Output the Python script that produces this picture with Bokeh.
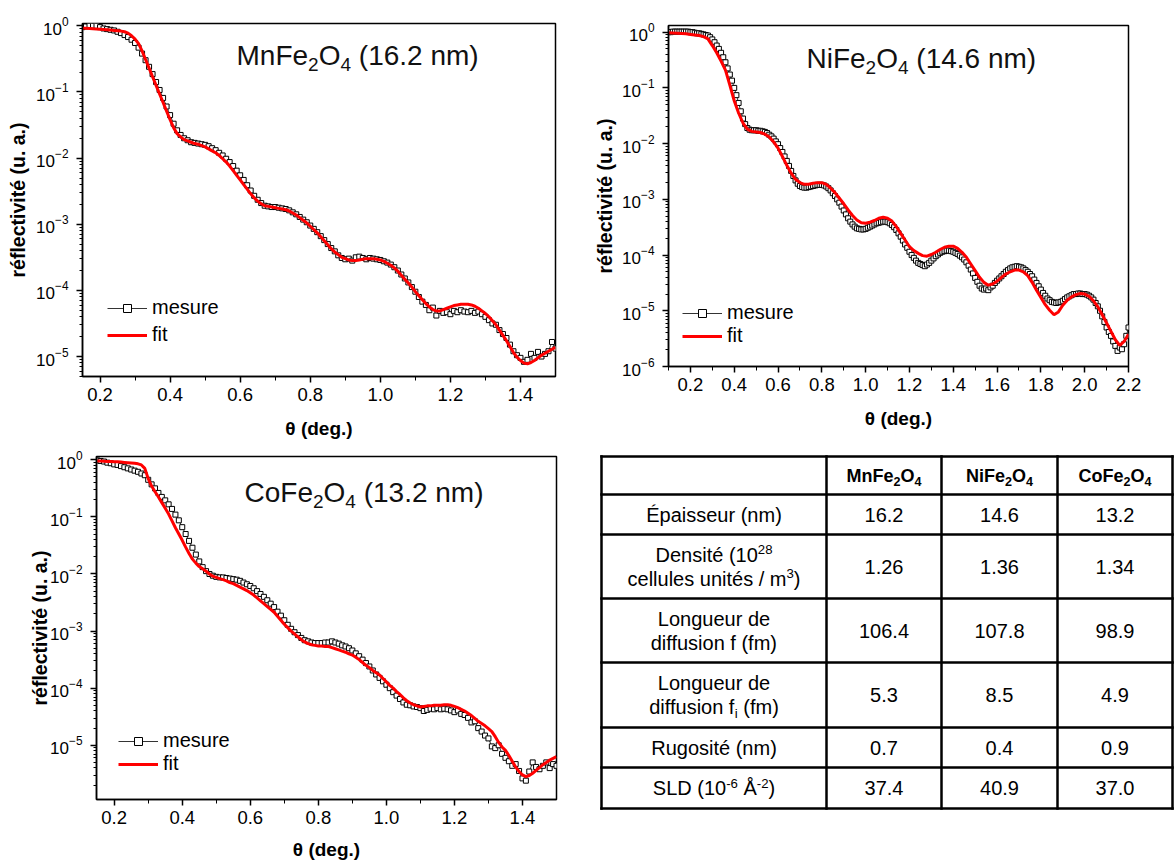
from bokeh.plotting import figure
from bokeh.models import (Range1d, FixedTicker, SingleIntervalTicker, PrintfTickFormatter,
                          ColumnDataSource, Legend, LegendItem)
from bokeh.layouts import column, row
from bokeh.embed import file_html
from bokeh.resources import INLINE
from bokeh.core.properties import value, field

FONT = "Liberation Sans"

# ------------------------------------------------------------------ data
# measured angles (deg.) : regular 0.01 deg. steps of the scan
mn_theta = [round(0.15 + 0.01 * i, 2) for i in range(136)]
co_theta = [round(0.15 + 0.01 * i, 2) for i in range(136)]
ni_theta = [round(0.10 + 0.01 * i, 2) for i in range(211)]
ni_fit_theta = [round(0.10 + 0.02 * i, 2) for i in range(106)]

# log10(reflectivity)
mn_meas_log = [
    -0.02, -0.01, 0.0, 0.0, 0.0, -0.02, -0.04, -0.05, -0.06, -0.07,
    -0.09, -0.11, -0.14, -0.17, -0.21, -0.26, -0.33, -0.42, -0.52, -0.62,
    -0.73, -0.85, -0.97, -1.09, -1.22, -1.35, -1.48, -1.58, -1.65, -1.70,
    -1.73, -1.76, -1.77, -1.78, -1.79, -1.80, -1.82, -1.85, -1.88, -1.92,
    -1.96, -2.01, -2.06, -2.12, -2.19, -2.26, -2.33, -2.41, -2.49, -2.57,
    -2.63, -2.68, -2.72, -2.73, -2.74, -2.74, -2.75, -2.76, -2.77, -2.79,
    -2.82, -2.85, -2.89, -2.93, -2.97, -3.02, -3.07, -3.12, -3.18, -3.24,
    -3.30, -3.36, -3.41, -3.47, -3.51, -3.53, -3.52, -3.55, -3.50, -3.49,
    -3.51, -3.53, -3.51, -3.52, -3.53, -3.54, -3.56, -3.58, -3.61, -3.65,
    -3.70, -3.76, -3.82, -3.88, -3.95, -4.02, -4.10, -4.17, -4.22, -4.30,
    -4.26, -4.38, -4.31, -4.34, -4.33, -4.36, -4.31, -4.33, -4.30, -4.32,
    -4.33, -4.31, -4.34, -4.32, -4.36, -4.40, -4.45, -4.50, -4.52, -4.60,
    -4.66, -4.72, -4.82, -4.92, -4.98, -5.02, -5.08, -5.05, -4.96, -5.02,
    -4.93, -5.00, -4.96, -4.92, -4.78, -4.88]
mn_fit_log = [
    -0.035, -0.037, -0.04, -0.045, -0.05, -0.052, -0.055, -0.06, -0.065, -0.07,
    -0.075, -0.08, -0.09, -0.11, -0.15, -0.20, -0.27, -0.38, -0.51, -0.64,
    -0.77, -0.90, -1.03, -1.16, -1.29, -1.42, -1.54, -1.63, -1.68, -1.72,
    -1.74, -1.76, -1.78, -1.79, -1.81, -1.83, -1.86, -1.89, -1.92, -1.96,
    -2.01, -2.06, -2.12, -2.19, -2.26, -2.33, -2.40, -2.47, -2.54, -2.60,
    -2.65, -2.69, -2.72, -2.73, -2.74, -2.75, -2.76, -2.77, -2.78, -2.80,
    -2.83, -2.86, -2.90, -2.94, -2.98, -3.03, -3.08, -3.13, -3.19, -3.25,
    -3.31, -3.37, -3.42, -3.46, -3.50, -3.52, -3.54, -3.55, -3.55, -3.54,
    -3.53, -3.52, -3.52, -3.52, -3.53, -3.54, -3.56, -3.59, -3.62, -3.66,
    -3.71, -3.77, -3.83, -3.89, -3.95, -4.02, -4.08, -4.14, -4.20, -4.25,
    -4.29, -4.31, -4.31, -4.29, -4.27, -4.25, -4.23, -4.22, -4.21, -4.21,
    -4.21, -4.22, -4.24, -4.27, -4.31, -4.35, -4.40, -4.46, -4.52, -4.60,
    -4.68, -4.76, -4.85, -4.94, -5.01, -5.06, -5.10, -5.11, -5.09, -5.06,
    -5.02, -4.98, -4.95, -4.92, -4.89, -4.86]

ni_meas_log = [
    0.0, 0.0, 0.01, 0.01, 0.01, 0.01, 0.01, 0.01, 0.01, 0.01,
    0.0, 0.0, -0.01, -0.02, -0.02, -0.03, -0.04, -0.05, -0.06, -0.09,
    -0.13, -0.18, -0.24, -0.30, -0.37, -0.45, -0.54, -0.65, -0.76, -0.87,
    -1.00, -1.13, -1.27, -1.42, -1.55, -1.65, -1.72, -1.75, -1.76, -1.76,
    -1.76, -1.77, -1.77, -1.78, -1.79, -1.81, -1.84, -1.87, -1.91, -1.96,
    -2.01, -2.08, -2.15, -2.23, -2.31, -2.40, -2.49, -2.58, -2.66, -2.72,
    -2.76, -2.78, -2.79, -2.79, -2.78, -2.77, -2.76, -2.75, -2.74, -2.74,
    -2.74, -2.75, -2.77, -2.80, -2.84, -2.89, -2.94, -3.00, -3.06, -3.13,
    -3.20, -3.27, -3.34, -3.40, -3.45, -3.49, -3.52, -3.53, -3.54, -3.54,
    -3.53, -3.51, -3.49, -3.47, -3.45, -3.43, -3.42, -3.41, -3.40, -3.40,
    -3.41, -3.43, -3.46, -3.50, -3.55, -3.61, -3.67, -3.74, -3.81, -3.87,
    -3.94, -4.00, -4.05, -4.10, -4.14, -4.16, -4.18, -4.20, -4.17, -4.14,
    -4.10, -4.06, -4.02, -3.99, -3.96, -3.94, -3.93, -3.92, -3.92, -3.93,
    -3.94, -3.96, -3.98, -4.01, -4.04, -4.08, -4.13, -4.19, -4.26, -4.33,
    -4.41, -4.48, -4.55, -4.60, -4.62, -4.60, -4.63, -4.58, -4.55, -4.50,
    -4.46, -4.42, -4.38, -4.34, -4.30, -4.27, -4.24, -4.22, -4.21, -4.20,
    -4.21, -4.22, -4.24, -4.27, -4.30, -4.34, -4.38, -4.44, -4.50, -4.56,
    -4.62, -4.68, -4.73, -4.78, -4.81, -4.84, -4.85, -4.86, -4.85, -4.84,
    -4.82, -4.79, -4.76, -4.74, -4.72, -4.70, -4.70, -4.69, -4.69, -4.70,
    -4.70, -4.71, -4.73, -4.76, -4.80, -4.86, -4.92, -5.00, -5.10, -5.20,
    -5.30, -5.38, -5.45, -5.55, -5.63, -5.72, -5.66, -5.69, -5.60, -5.45,
    -5.30]
ni_fit_log = [
    -0.01, -0.015, -0.02, -0.025, -0.03, -0.04, -0.05, -0.06, -0.08, -0.12,
    -0.24, -0.37, -0.52, -0.68, -0.95, -1.23, -1.45, -1.63, -1.74, -1.78,
    -1.79, -1.80, -1.83, -1.88, -1.97, -2.08, -2.23, -2.39, -2.53, -2.64,
    -2.70, -2.73, -2.73, -2.71, -2.70, -2.70, -2.73, -2.80, -2.88, -2.98,
    -3.08, -3.19, -3.29, -3.37, -3.42, -3.43, -3.41, -3.38, -3.34, -3.32,
    -3.34, -3.39, -3.49, -3.61, -3.73, -3.85, -3.92, -3.97, -4.01, -4.02,
    -3.99, -3.95, -3.90, -3.86, -3.84, -3.84, -3.88, -3.95, -4.04, -4.16,
    -4.28, -4.40, -4.49, -4.54, -4.52, -4.47, -4.40, -4.34, -4.30, -4.27,
    -4.27, -4.30, -4.37, -4.49, -4.63, -4.76, -4.89, -4.99, -5.07, -5.02,
    -4.90, -4.81, -4.75, -4.71, -4.69, -4.70, -4.74, -4.82, -4.93, -5.07,
    -5.22, -5.37, -5.52, -5.62, -5.55, -5.42]

co_meas_log = [
    -0.01, -0.02, -0.03, -0.05, -0.06, -0.08, -0.09, -0.11, -0.13, -0.15,
    -0.17, -0.19, -0.21, -0.24, -0.27, -0.35, -0.43, -0.50, -0.58, -0.65,
    -0.71, -0.78, -0.86, -0.96, -1.06, -1.18, -1.30, -1.42, -1.54, -1.66,
    -1.78, -1.88, -1.95, -2.00, -2.03, -2.05, -2.06, -2.06, -2.07, -2.08,
    -2.09, -2.10, -2.12, -2.15, -2.18, -2.21, -2.25, -2.30, -2.35, -2.40,
    -2.46, -2.52, -2.58, -2.66, -2.73, -2.81, -2.89, -2.96, -3.02, -3.07,
    -3.12, -3.16, -3.18, -3.20, -3.21, -3.21, -3.21, -3.20, -3.20, -3.18,
    -3.20, -3.22, -3.25, -3.27, -3.30, -3.34, -3.39, -3.44, -3.50, -3.56,
    -3.62, -3.69, -3.76, -3.82, -3.88, -3.94, -4.00, -4.07, -4.13, -4.19,
    -4.25, -4.29, -4.30, -4.32, -4.33, -4.35, -4.40, -4.38, -4.36, -4.37,
    -4.35, -4.37, -4.36, -4.37, -4.39, -4.42, -4.39, -4.45, -4.47, -4.52,
    -4.60, -4.58, -4.70, -4.76, -4.83, -4.88, -5.02, -5.05, -5.00, -5.15,
    -5.22, -5.28, -5.36, -5.33, -5.45, -5.58, -5.62, -5.46, -5.30, -5.38,
    -5.42, -5.36, -5.30, -5.40, -5.33, -5.36]
co_fit_log = [
    -0.02, -0.02, -0.025, -0.03, -0.03, -0.035, -0.035, -0.04, -0.045, -0.05,
    -0.055, -0.06, -0.07, -0.09, -0.15, -0.33, -0.46, -0.56, -0.65, -0.75,
    -0.85, -0.95, -1.07, -1.19, -1.30, -1.41, -1.53, -1.64, -1.74, -1.81,
    -1.87, -1.91, -1.95, -2.00, -2.04, -2.06, -2.08, -2.10, -2.12, -2.15,
    -2.17, -2.20, -2.23, -2.26, -2.29, -2.33, -2.37, -2.42, -2.47, -2.52,
    -2.57, -2.62, -2.67, -2.74, -2.81, -2.88, -2.94, -3.00, -3.05, -3.10,
    -3.15, -3.19, -3.22, -3.24, -3.25, -3.26, -3.26, -3.27, -3.27, -3.29,
    -3.31, -3.33, -3.35, -3.37, -3.40, -3.42, -3.46, -3.50, -3.55, -3.60,
    -3.64, -3.69, -3.73, -3.77, -3.83, -3.89, -3.95, -4.00, -4.06, -4.11,
    -4.17, -4.22, -4.26, -4.29, -4.31, -4.33, -4.32, -4.31, -4.31, -4.30,
    -4.30, -4.30, -4.29, -4.29, -4.30, -4.32, -4.34, -4.37, -4.40, -4.44,
    -4.48, -4.53, -4.58, -4.62, -4.66, -4.71, -4.76, -4.85, -4.95, -5.03,
    -5.09, -5.18, -5.28, -5.38, -5.46, -5.52, -5.55, -5.53, -5.49, -5.44,
    -5.39, -5.34, -5.30, -5.26, -5.23, -5.20]

# table values
compound_bases = ["Mn", "Ni", "Co"]
epaisseur = [16.2, 14.6, 13.2]
densite = [1.26, 1.36, 1.34]
longueur_f = [106.4, 107.8, 98.9]
longueur_fi = [5.3, 8.5, 4.9]
rugosite = [0.7, 0.4, 0.9]
sld = [37.4, 40.9, 37.0]
table_rows = [epaisseur, densite, longueur_f, longueur_fi, rugosite, sld]
row_decimals = [1, 2, 1, 1, 1, 1]
row_labels = [
    [[("Épaisseur (nm)", "")]],
    [[("Densité (10", ""), ("28", "sup")], [("cellules unités / m", ""), ("3", "sup"), (")", "")]],
    [[("Longueur de", "")], [("diffusion f (fm)", "")]],
    [[("Longueur de", "")], [("diffusion f", ""), ("i", "sub"), (" (fm)", "")]],
    [[("Rugosité (nm)", "")]],
    [[("SLD (10", ""), ("-6", "sup"), (" Å", ""), ("-2", "sup"), (")", "")]],
]

# ------------------------------------------------------------------ text helpers (Arial metrics)
W_REG = {' ': 278, '(': 333, ')': 333, '.': 278, '/': 278, '-': 333, 'A': 667, 'C': 722, 'D': 722,
         'E': 667, 'F': 611, 'L': 556, 'M': 833, 'N': 722, 'O': 778, 'R': 722, 'S': 667, 'É': 667,
         'Å': 667, 'a': 556, 'b': 556, 'c': 500, 'd': 556, 'e': 556, 'f': 278, 'g': 556, 'h': 556,
         'i': 222, 'l': 222, 'm': 833, 'n': 556, 'o': 556, 'p': 556, 'r': 333, 's': 500, 't': 278,
         'u': 556, 'v': 500, 'é': 556, 'x': 500, 'y': 500}
W_BOLD = {' ': 278, '(': 333, ')': 333, '.': 278, 'M': 833, 'N': 722, 'C': 722, 'F': 611, 'O': 778,
          'n': 611, 'i': 278, 'o': 611, 'e': 556}
BASE_FIX = 0.36   # rendered baseline sits this many em below the requested one


def text_width(s, size, bold=False):
    tbl = W_BOLD if bold else W_REG
    return sum(tbl.get(c, 556) for c in s) * size / 1000.0


def rich(pieces, size, bold=False, center=False, ratio=0.66):
    """split text with sub/superscripts into separately placed pieces"""
    small = size * ratio
    widths = [text_width(t, small if r else size, bold) for t, r in pieces]
    x = -sum(widths) / 2.0 if center else 0.0
    out = []
    for (t, r), w in zip(pieces, widths):
        fs = small if r else size
        dy = 0.2 * size if r == "sub" else (-0.36 * size if r == "sup" else 0.0)
        dy -= BASE_FIX * fs
        stripped = " ".join(t.split())
        lead = text_width(" ", fs, bold) if t.startswith(" ") else 0.0
        out.append((x + lead, dy, stripped, "%.1fpx" % fs))
        x += w
    return out


def formula(base):
    return [(base + "Fe", ""), ("2", "sub"), ("O", ""), ("4", "sub")]


# ------------------------------------------------------------------ reflectivity plots
def make_refl(width, height, borders, xr, ylog, xint, mx, my_log, fx, fy_log, base, thick,
              title_xy, leg_xy, leg_spacing, xlab_standoff, ylab_standoff):
    l, r, t, b = borders
    y0, y1 = 10 ** ylog[0], 10 ** ylog[1]
    p = figure(width=width, height=height, x_range=Range1d(*xr), y_range=Range1d(y0, y1),
               y_axis_type="log", toolbar_location=None, output_backend="svg",
               min_border_left=l, min_border_right=r, min_border_top=t, min_border_bottom=b,
               frame_align=False)
    p.background_fill_color = "white"
    p.border_fill_color = "white"
    p.outline_line_color = "black"
    p.outline_line_width = 1.5
    p.grid.visible = False

    decades = [10.0 ** k for k in range(-7, 1)]
    minors = [m * 10.0 ** k for k in range(-7, 1) for m in range(2, 10)]
    p.yaxis.ticker = FixedTicker(ticks=decades, minor_ticks=minors)
    p.xaxis.ticker = SingleIntervalTicker(interval=xint, num_minor_ticks=2)
    p.xaxis.formatter = PrintfTickFormatter(format="%.1f")
    for ax in (p.xaxis[0], p.yaxis[0]):
        ax.axis_line_color = "black"
        ax.axis_line_width = 1.5
        ax.major_tick_line_color = "black"
        ax.major_tick_line_width = 1.5
        ax.minor_tick_line_color = "black"
        ax.minor_tick_line_width = 1
        ax.major_tick_in = 0
        ax.minor_tick_in = 0
        ax.major_tick_out = 6
        ax.major_label_text_font = FONT
        ax.major_label_text_color = "black"
        ax.axis_label_text_font = FONT
        ax.axis_label_text_font_style = "bold"
        ax.axis_label_text_color = "black"
    p.xaxis.minor_tick_out = 4
    p.yaxis.minor_tick_out = 3
    p.xaxis.major_label_text_font_size = "18.5px"
    p.yaxis.major_label_text_font_size = "17px"
    p.yaxis.major_label_standoff = 8
    p.xaxis.axis_label = "θ (deg.)"
    p.yaxis.axis_label = "réflectivité (u. a.)"
    p.xaxis.axis_label_text_font_size = "19px"
    p.yaxis.axis_label_text_font_size = "19.5px"
    p.xaxis.axis_label_standoff = xlab_standoff
    p.yaxis.axis_label_standoff = ylab_standoff

    my = [10 ** v for v in my_log]
    fy = [10 ** v for v in fy_log]
    r_line = p.line(mx, my, line_color="black", line_width=0.8)
    r_sq = p.scatter(mx, my, marker="square", size=5, line_color="black", line_width=1,
                     fill_color="white")
    r_fit = p.line(fx, fy, line_color="#ff0000", line_width=3)

    # title (formula with subscripts) anchored at top-left of the frame
    pieces = formula(base) + [(" (%.1f nm)" % thick, "")]
    parts = rich(pieces, 28, ratio=0.68)
    src = ColumnDataSource(dict(
        x=[xr[0]] * len(parts), y=[y1] * len(parts),
        dx=[title_xy[0] + q[0] for q in parts], dy=[title_xy[1] + q[1] for q in parts],
        text=[q[2] for q in parts], fs=[q[3] for q in parts]))
    p.text(x="x", y="y", text="text", x_offset="dx", y_offset="dy", source=src,
           text_font=value(FONT), text_font_size=field("fs"), text_color="#111111",
           text_baseline="alphabetic", text_align="left")

    legend = Legend(items=[LegendItem(label="mesure", renderers=[r_line, r_sq]),
                           LegendItem(label="fit", renderers=[r_fit])],
                    location=leg_xy, orientation="vertical")
    legend.border_line_color = None
    legend.background_fill_alpha = 0
    legend.padding = 0
    legend.margin = 0
    legend.spacing = leg_spacing
    legend.glyph_width = 40
    legend.glyph_height = 20
    legend.label_height = 20
    legend.label_standoff = 5
    legend.label_text_font = FONT
    legend.label_text_font_size = "20px"
    legend.label_text_color = "black"
    p.add_layout(legend)
    return p


p1 = make_refl(590, 445, (82, 35, 23, 69), (0.15, 1.5), (-5.302, 0.035), 0.2,
               mn_theta, mn_meas_log, mn_theta, mn_fit_log, compound_bases[0], epaisseur[0],
               (154, 42), (25, 30), 4, 14, 4)
p2 = make_refl(585, 445, (78, 47, 25, 79), (0.1, 2.2), (-6.0, 0.12), 0.2,
               ni_theta, ni_meas_log, ni_fit_theta, ni_fit_log, compound_bases[1], epaisseur[1],
               (138, 43), (14, 19), 0, 14, 3)
p3 = make_refl(590, 419, (96, 34, 11, 65), (0.148, 1.5), (-5.95, 0.058), 0.2,
               co_theta, co_meas_log, co_theta, co_fit_log, compound_bases[2], epaisseur[2],
               (148, 46), (22, 24), 0, 12, -4)

# ------------------------------------------------------------------ table
TW, TH = 585, 419
pt = figure(width=TW, height=TH, x_range=Range1d(0, TW), y_range=Range1d(TH, 0),
            toolbar_location=None, output_backend="svg", min_border=0,
            x_axis_location=None, y_axis_location=None, frame_align=False)
pt.outline_line_color = None
pt.grid.visible = False
pt.background_fill_color = "white"
pt.border_fill_color = "white"

col_x = [11, 236, 351, 467, 582]
row_y = [11, 49, 89, 153, 217, 282, 322, 363]
seg = dict(x0=[], y0=[], x1=[], y1=[])
for cx in col_x:
    seg["x0"].append(cx); seg["x1"].append(cx); seg["y0"].append(row_y[0]); seg["y1"].append(row_y[-1])
for ry in row_y:
    seg["x0"].append(col_x[0]); seg["x1"].append(col_x[-1]); seg["y0"].append(ry); seg["y1"].append(ry)
pt.segment(x0="x0", y0="y0", x1="x1", y1="y1", source=ColumnDataSource(seg),
           line_color="black", line_width=2.5, line_cap="square")

reg = dict(x=[], y=[], text=[], fs=[])
bold = dict(x=[], y=[], text=[], fs=[])


def put(store, pieces, cx, baseline, size, is_bold=False, ratio=0.66):
    for dx, dy, t, fs in rich(pieces, size, bold=is_bold, center=True, ratio=ratio):
        store["x"].append(cx + dx)
        store["y"].append(baseline + dy)
        store["text"].append(t)
        store["fs"].append(fs)


centers_x = [(col_x[i] + col_x[i + 1]) / 2.0 for i in range(4)]
FS = 20
HS = 18
hb = (row_y[0] + row_y[1]) / 2.0 + 0.36 * HS
for j, base in enumerate(compound_bases):
    put(bold, formula(base), centers_x[j + 1], hb, HS, is_bold=True, ratio=0.7)
for i, (lab, vals, dec) in enumerate(zip(row_labels, table_rows, row_decimals)):
    cy = (row_y[i + 1] + row_y[i + 2]) / 2.0
    nl = len(lab)
    for k, line in enumerate(lab):
        ly = cy + (k - (nl - 1) / 2.0) * 24 + 0.36 * FS
        put(reg, line, centers_x[0], ly, FS)
    for j, v in enumerate(vals):
        put(reg, [(("%." + str(dec) + "f") % v, "")], centers_x[j + 1], cy + 0.36 * FS, FS)

pt.text(x="x", y="y", text="text", source=ColumnDataSource(reg), text_font=value(FONT),
        text_font_size=field("fs"), text_color="black", text_baseline="alphabetic",
        text_align="left")
pt.text(x="x", y="y", text="text", source=ColumnDataSource(bold), text_font=value(FONT),
        text_font_size=field("fs"), text_font_style="bold", text_color="black",
        text_baseline="alphabetic", text_align="left")

layout = column(row(p1, p2), row(p3, pt))
open("out.html", "w").write(file_html(layout, INLINE))
